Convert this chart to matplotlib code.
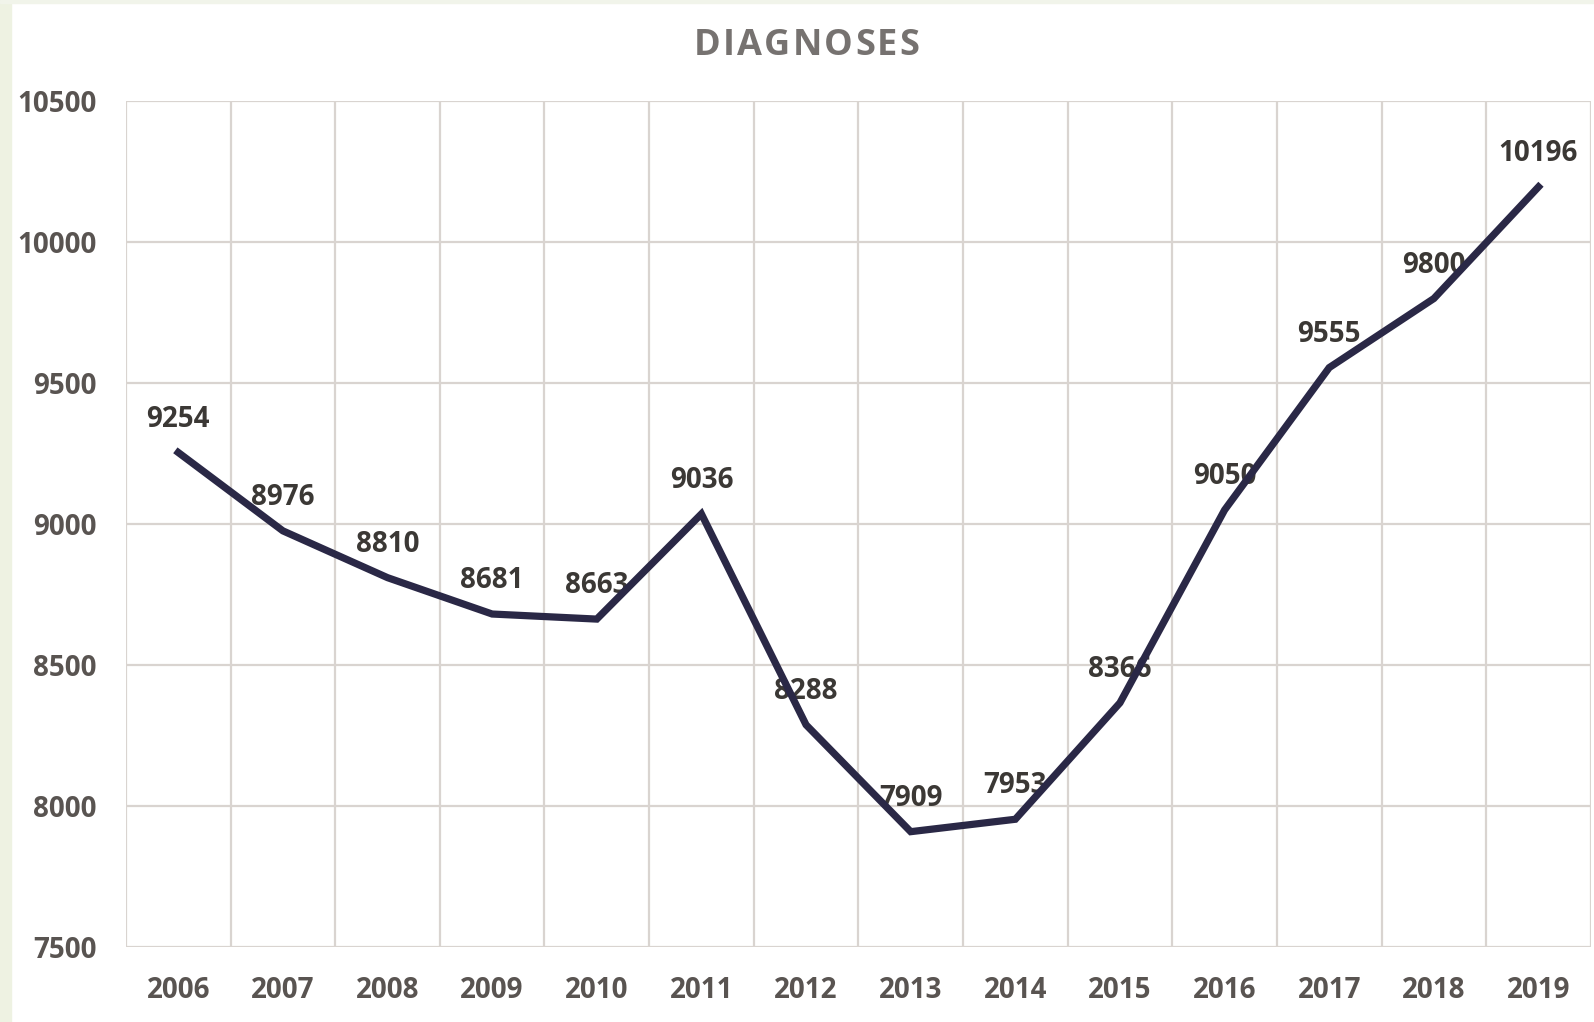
import numpy as np
import matplotlib
matplotlib.use("Agg")
from matplotlib import pyplot as plt

years = ['2006', '2007', '2008', '2009', '2010', '2011', '2012',
         '2013', '2014', '2015', '2016', '2017', '2018', '2019']
diagnoses = [9254, 8976, 8810, 8681, 8663, 9036, 8288,
             7909, 7953, 8366, 9050, 9555, 9800, 10196]
yticks = [7500, 8000, 8500, 9000, 9500, 10000, 10500]

plt.rcParams['font.family'] = ['Open Sans', 'DejaVu Sans']

fig = plt.figure(figsize=(15.94, 10.22), dpi=100)
fig.patch.set_facecolor('white')
# pale green frame strip on the left / top
fig.patches.append(plt.Rectangle((0, 0), 11/1594, 1, transform=fig.transFigure,
                                 color='#eef2e2', zorder=0))
fig.patches.append(plt.Rectangle((0, 1-3/1022), 1, 3/1022, transform=fig.transFigure,
                                 color='#f1f4ea', zorder=0))

ax = fig.add_axes([0.079, 0.0734, 0.919, 0.8276])
x = np.arange(len(years))
ax.set_xlim(-0.5, len(years) - 0.5)
ax.set_ylim(7500, 10500)

grid_c = '#d9d4d0'
for b in np.arange(-0.5, len(years), 1.0):
    ax.axvline(b, color=grid_c, lw=1.6, zorder=1)
for t in yticks:
    ax.axhline(t, color=grid_c, lw=1.6, zorder=1)
for s in ax.spines.values():
    s.set_visible(False)

ax.plot(x, diagnoses, color='#2a2846', lw=5.2, solid_joinstyle='miter', zorder=4)

for xi, v in zip(x, diagnoses):
    ax.annotate(str(v), (xi, v), xytext=(0, 24), textcoords='offset points',
                ha='center', va='center', fontsize=20, fontweight='bold',
                color='#3b3835', zorder=3)

ax.set_xticks(x)
ax.set_xticklabels(years)
ax.set_yticks(yticks)
ax.tick_params(length=0, labelsize=20, labelcolor='#595451')
ax.tick_params(axis='x', pad=21)
ax.tick_params(axis='y', pad=21)
for lab in ax.get_xticklabels() + ax.get_yticklabels():
    lab.set_fontweight('bold')

# title with a little letter spacing
title = 'DIAGNOSES'
fig.canvas.draw()
r = fig.canvas.get_renderer()
widths = []
for ch in title:
    t = fig.text(0, 0, ch, fontsize=26, fontweight='bold')
    widths.append(t.get_window_extent(r).width)
    t.remove()
spacing = 2.2
total = sum(widths) + spacing * (len(title) - 1)
xpos = 0.506 * fig.bbox.width - total / 2
for ch, w in zip(title, widths):
    fig.text(xpos / fig.bbox.width, 0.955, ch, ha='left', va='center',
             fontsize=26, fontweight='bold', color='#767270')
    xpos += w + spacing

fig.savefig('out.png', dpi=100)
